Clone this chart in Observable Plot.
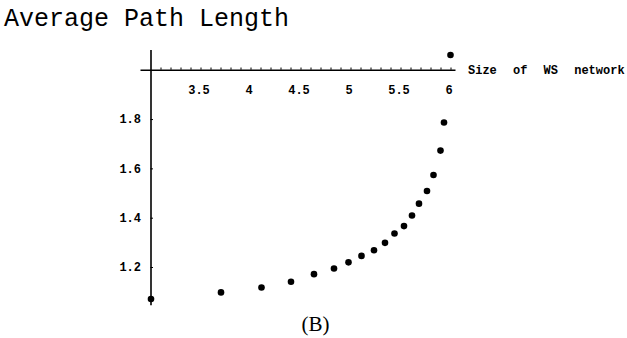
<!DOCTYPE html>
<html>
<head>
<meta charset="utf-8">
<script src="https://cdn.jsdelivr.net/npm/d3@7"></script>
<script src="https://cdn.jsdelivr.net/npm/@observablehq/plot@0.6"></script>
<style>
  html, body { margin: 0; padding: 0; background: #fff; }
  #wrap { position: relative; width: 627px; height: 338px; overflow: hidden; }
  #title { position: absolute; left: 4px; top: 5px; font-family: "Courier New", "Liberation Mono", monospace; font-size: 25px; color: #000; white-space: pre; }
  #caption { position: absolute; left: 0; width: 627px; top: 312px; text-align: center; padding-left: 2px; font-family: "Liberation Serif", "DejaVu Serif", serif; font-size: 21px; color: #000; }
  #chart { position: absolute; left: 0; top: 0; }
</style>
</head>
<body>
<div id="wrap">
  <div id="chart"></div>
  <div id="title">Average Path Length</div>
  <div id="caption">(B)</div>
</div>
<script>
const titleText = "Average Path Length";
const xLabel = "Size of WS network";
const captionText = "(B)";

const sizes = [3.0, 3.70, 4.105, 4.40, 4.63, 4.83, 4.975, 5.105, 5.23, 5.34, 5.435, 5.53, 5.61, 5.68, 5.76, 5.825, 5.895, 5.93, 5.995];
const pathLengths = [1.072, 1.099, 1.119, 1.142, 1.173, 1.196, 1.221, 1.247, 1.270, 1.300, 1.338, 1.368, 1.411, 1.459, 1.510, 1.575, 1.674, 1.788, 2.062];

const xTickValues = [3.5, 4, 4.5, 5, 5.5, 6];
const xTickLabels = ["3.5", "4", "4.5", "5", "5.5", "6"];
const xMinorTicks = d3.range(31, 61).map(d => d / 10);
const yTickValues = [1.2, 1.4, 1.6, 1.8];
const yTickLabels = ["1.2", "1.4", "1.6", "1.8"];

const xOrigin = 3;   // y axis crosses at x = 3
const yOrigin = 2;   // x axis crosses at y = 2

const points = sizes.map((s, i) => ({x: s, y: pathLengths[i]}));
const xTicks = xTickValues.map((v, i) => ({v, label: xTickLabels[i]}));
const yTicks = yTickValues.map((v, i) => ({v, label: yTickLabels[i]}));

const tickFont = {fontFamily: "Liberation Mono, monospace", fontSize: 12, fontWeight: "bold"};

const chart = Plot.plot({
  width: 627,
  height: 338,
  marginLeft: 150.5,
  marginRight: 171.5,
  marginTop: 50,
  marginBottom: 34,
  x: {domain: [3, 6.05], axis: null},
  y: {domain: [1.05, 2.08], axis: null},
  style: {background: "#fff", color: "#000", overflow: "visible"},
  marks: [
    Plot.ruleY([yOrigin], {x1: 2.9, x2: 6.05, stroke: "#000", strokeWidth: 1.3}),
    Plot.ruleX([xOrigin], {y1: 1.045, y2: 2.08, stroke: "#000", strokeWidth: 1.6}),
    Plot.ruleX(xMinorTicks, {y1: yOrigin, y2: yOrigin + 0.009, stroke: "#000", strokeWidth: 1}),
    Plot.ruleY(yTickValues, {x1: xOrigin, x2: xOrigin + 0.025, stroke: "#000", strokeWidth: 1}),
    Plot.text(xTicks, {x: "v", y: yOrigin, text: "label", dy: 20, dx: -2, lineAnchor: "middle", ...tickFont}),
    Plot.text(yTicks, {x: xOrigin, y: "v", text: "label", dx: -10, textAnchor: "end", lineAnchor: "middle", ...tickFont}),
    Plot.text([xLabel], {x: 6.05, y: yOrigin, text: d => d, dx: 12, textAnchor: "start", lineAnchor: "middle", fontFamily: "Liberation Mono, monospace", fontSize: 12, fontWeight: "bold"}),
    Plot.dot(points, {x: "x", y: "y", r: 3.3, fill: "#000", stroke: "none"})
  ]
});
d3.select(chart).selectAll("text").filter(function() { return this.textContent === xLabel; })
  .style("word-spacing", "9px").attr("word-spacing", "9px");
document.getElementById("chart").appendChild(chart);
document.getElementById("title").textContent = titleText;
document.getElementById("caption").textContent = captionText;
</script>
</body>
</html>
